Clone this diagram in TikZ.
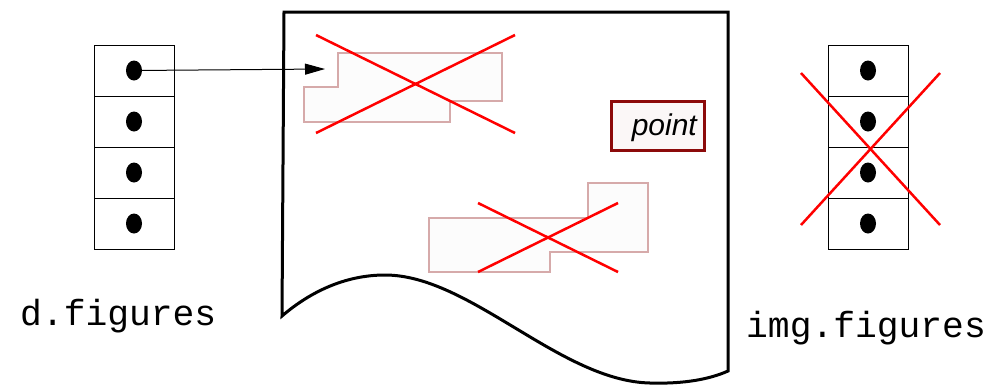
\documentclass[tikz,border=0pt]{standalone}
\usepackage{fontspec}
\setmainfont{Liberation Sans}
\newfontfamily\monofam{Liberation Mono}
\usetikzlibrary{arrows.meta}
\definecolor{rosy}{RGB}{214,170,170}
\definecolor{shapefill}{RGB}{252,252,252}
\definecolor{darkred}{RGB}{140,10,10}
\definecolor{ptfill}{RGB}{251,247,247}
\tikzset{
  cell/.style={draw=black, line width=1pt, minimum width=80pt, minimum height=51pt, inner sep=0pt, outer sep=0pt},
  dotm/.style={fill=black, ellipse, minimum width=16pt, minimum height=20pt, inner sep=0pt},
  cross/.style={draw=red, line width=2.5pt},
  region/.style={draw=rosy, fill=shapefill, line width=2.2pt},
  pagestroke/.style={draw=black, line width=3pt, line join=miter},
  lbl/.style={font=\monofam\fontsize{36.3}{38}\selectfont, inner sep=0pt, anchor=base west},
}
\usetikzlibrary{shapes.geometric}
\begin{document}
\begin{tikzpicture}[x=1pt,y=-1pt]
\useasboundingbox (0,0) rectangle (1008,384);
% page
\draw[pagestroke] (282,316) -- (284,12) -- (728,12) -- (728,371)
  .. controls (710,379) and (685,384) .. (650,383)
  .. controls (560,381) and (470,275) .. (385,275)
  .. controls (345,275) and (310,292) .. (282,316) -- cycle;
% upper region
\draw[region] (338,53) -- (502,53) -- (502,101) -- (450,101) -- (450,122) -- (304,122) -- (304,87) -- (338,87) -- cycle;
\draw[cross] (316,35) -- (515,133);
\draw[cross] (316,133) -- (515,35);
% lower region
\draw[region] (588,183) -- (648,183) -- (648,252) -- (550,252) -- (550,272) -- (429,272) -- (429,218) -- (588,218) -- cycle;
\draw[cross] (478,203) -- (618,272);
\draw[cross] (478,272) -- (618,203);
% point box
\node[draw=darkred, fill=ptfill, line width=2.5pt, minimum width=93pt, minimum height=49pt, inner sep=0pt, anchor=north west] (pt) at (610,100) {};
\node[font=\fontsize{30}{32}\selectfont\itshape, anchor=base east, inner sep=0pt] (ptlbl) at (697,135) {point};
% left stack
\foreach \i/\y in {1/70.5,2/121.5,3/172.5,4/223.5}{
  \node[cell] (L\i) at (134,\y) {};
  \node[dotm] (Ld\i) at (134,\y) {};
}
% right stack
\foreach \i/\y in {1/70.5,2/121.5,3/172.5,4/223.5}{
  \node[cell] (R\i) at (868,\y) {};
  \node[dotm] (Rd\i) at (868,\y) {};
}
\draw[cross] (801,73) -- (940,225);
\draw[cross] (801,225) -- (940,73);
% arrow
\coordinate (tip) at (325,69);
\draw[line width=1pt, -{Triangle[length=20pt,width=11pt]}] (Ld1.center) -- (tip);
% labels
\node[lbl] (dfig) at (20,325) {d.figures};
\node[lbl] (ifig) at (746,337) {img.figures};
\end{tikzpicture}
\end{document}
